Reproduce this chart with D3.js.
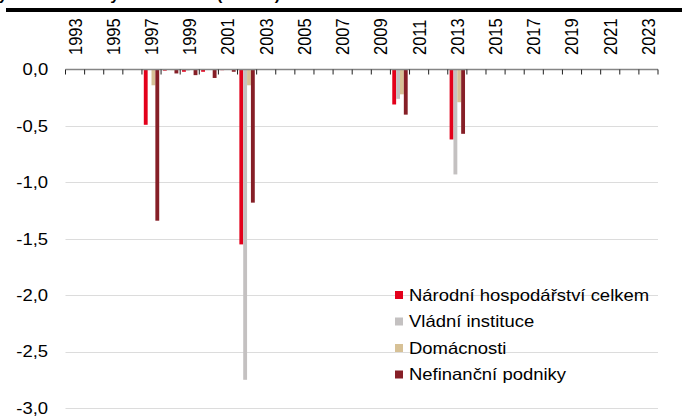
<!DOCTYPE html>
<html><head><meta charset="utf-8">
<script src="https://cdn.jsdelivr.net/npm/d3@7"></script>
<style>
html,body{margin:0;padding:0;background:#fff;}
svg{display:block;font-family:"Liberation Sans",Arial,sans-serif;}
</style></head>
<body>
<svg id="c" width="682" height="417"></svg>
<script>
// ---- data ----
const years = d3.range(1993, 2024).map(String);
const labelYears = years.filter((d,i) => i % 2 === 0);
const seriesNames = ["Národní hospodářství celkem","Vládní instituce","Domácnosti","Nefinanční podniky"];
const seriesColors = ["#e3001b","#c4c1c1","#d7c196","#861f27"];
// values by year (% HDP), 0 = no bar
const narodni   = {"1997":-0.49,"1998":-0.01,"1999":-0.02,"2000":-0.02,"2001":-0.006,"2002":-1.55,"2010":-0.31,"2013":-0.62};
const vladni    = {"1999":-0.01,"2002":-2.75,"2010":-0.26,"2013":-0.93};
const domacnosti= {"1997":-0.14,"1998":-0.006,"2002":-0.14,"2010":-0.22,"2013":-0.29};
const podniky   = {"1997":-1.34,"1998":-0.035,"1999":-0.05,"2000":-0.075,"2001":-0.02,"2002":-1.18,"2010":-0.40,"2013":-0.57};
const yTicks = [0,-0.5,-1,-1.5,-2,-2.5,-3];
const titleText = "Kapitálové transfery do ekonomiky dle institucí (% HDP)";

const seriesData = [narodni, vladni, domacnosti, podniky];
const rows = years.map(y => ({year:y, vals: seriesData.map((s,i)=>({key:seriesNames[i], v: s[y] || 0, c: seriesColors[i]}))}));

// ---- layout ----
const SX = 1.12;
const svg = d3.select("#c");
const root = svg.append("g").attr("transform", `scale(${SX},1)`);
const left = 65.5/SX, right = 658/SX;
const x0 = d3.scaleBand().domain(years).range([left, right]).padding(0);
const x1 = d3.scaleBand().domain(seriesNames).range([0, x0.bandwidth()]).paddingInner(0).paddingOuter(0.48);
const y = d3.scaleLinear().domain([-3, 0]).range([408, 69.5]);
const loc = d3.formatLocale({decimal:",", thousands:" ", grouping:[3], currency:["",""], minus:"-"});
const fmt = loc.format(".1f");

// title (cut off at the top edge, as in the reference) and rule
root.append("text").attr("x", -131).attr("y", 0)
  .attr("font-size", 14.3).attr("font-weight", "bold").attr("fill", "#000").text(titleText);
root.append("rect").attr("x", 6/SX).attr("y", 8).attr("width", (682-6)/SX).attr("height", 4).attr("fill", "#000");

// gridlines
root.append("g").selectAll("line").data(yTicks.filter(d=>d!==0)).join("line")
  .attr("x1", left).attr("x2", right)
  .attr("y1", d => Math.round(y(d))+0.5).attr("y2", d => Math.round(y(d))+0.5)
  .attr("stroke", "#dcdcdc").attr("stroke-width", 1);

// y axis labels
const ya = root.append("g").attr("transform", `translate(${left},0)`)
  .call(d3.axisLeft(y).tickValues(yTicks).tickSize(0).tickPadding(15.5).tickFormat(fmt));
ya.select(".domain").remove();
ya.selectAll("text").attr("font-size", 16.5).attr("fill", "#000").attr("font-family", "Liberation Sans, Arial, sans-serif");

// bars
root.append("g").selectAll("g").data(rows).join("g")
  .attr("transform", d => `translate(${x0(d.year)},0)`)
  .selectAll("rect").data(d => d.vals.filter(v => v.v !== 0)).join("rect")
  .attr("x", d => x1(d.key)).attr("width", x1.bandwidth())
  .attr("y", y(0)).attr("height", d => y(d.v) - y(0))
  .attr("fill", d => d.c);

// x axis line + boundary ticks
const xa = root.append("g");
xa.append("line").attr("x1", left).attr("x2", right).attr("y1", 69.5).attr("y2", 69.5)
  .attr("stroke", "#858585").attr("stroke-width", 1.3);
xa.selectAll("line.t").data(years.concat(["end"])).join("line").attr("class","t")
  .attr("x1", d => d==="end" ? right : x0(d)).attr("x2", d => d==="end" ? right : x0(d))
  .attr("y1", 69.5).attr("y2", 74.5).attr("stroke", "#222").attr("stroke-width", 0.9);

// rotated year labels
xa.selectAll("text").data(labelYears).join("text")
  .attr("transform", d => `translate(${x0(d) + x0.bandwidth()/2},55) rotate(-90)`)
  .attr("dy", "0.35em").attr("text-anchor", "start")
  .attr("font-size", 16.5).attr("fill", "#000").text(d => d);

// legend
const lg = root.append("g").selectAll("g").data(seriesNames).join("g")
  .attr("transform", (d,i) => `translate(${395/SX},${295 + i*26.5})`);
lg.append("rect").attr("x", 0).attr("y", -4).attr("width", 8/SX).attr("height", 8)
  .attr("fill", (d,i) => seriesColors[i]);
lg.append("text").attr("x", (409-395)/SX).attr("y", 0).attr("dy", "0.35em")
  .attr("font-size", 16.5).attr("fill", "#000").text(d => d);
</script>
</body></html>
